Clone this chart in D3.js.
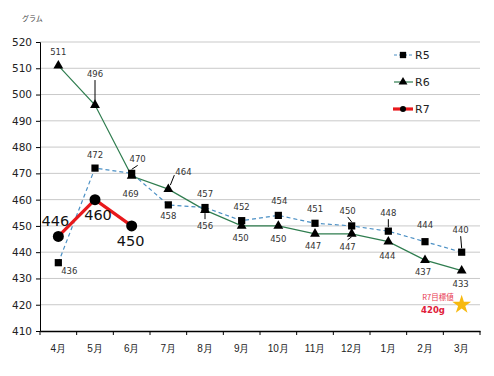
<!DOCTYPE html>
<html><head><meta charset="utf-8">
<script src="https://cdn.jsdelivr.net/npm/d3@7"></script>
<style>
body{margin:0;background:#fff;}
svg{display:block;font-family:"DejaVu Sans","Noto Sans CJK JP",sans-serif;}
</style></head>
<body>
<svg id="c" width="494" height="376"></svg>
<script>
const months = ["4月","5月","6月","7月","8月","9月","10月","11月","12月","1月","2月","3月"];
const r5 = [436,472,470,458,457,452,454,451,450,448,444,440];
const r6 = [511,496,469,464,456,450,450,447,447,444,437,433];
const r7 = [446,460,450];
const yTicks = [410,420,430,440,450,460,470,480,490,500,510,520];
const seriesNames = ["R5","R6","R7"];
const targetValue = 420;
const targetLabel = "R7目標値";
const targetText = "420g";
const unitLabel = "グラム";

// label offsets [dx, dy, leader?]
const r5Off = [[11,11,0],[0,-10,0],[6,-11,1],[0,14,0],[0,-11,0],[0,-11,0],[1,-11,0],[0,-11,0],[-4,-12,1],[0,-15,1],[0,-14,0],[-1,-19,1]];
const r6Off = [[0,-11,0],[0,-28,1],[-1,21,0],[15,-14,1],[0,19,1],[-1,15,0],[0,16,0],[-2,15,0],[-4,16,1],[-1,17,0],[-2,15,0],[-1,16,0]];
const r7Off = [[-3,-10],[3,20],[-1,20]];

const svg = d3.select("#c");
const x = d3.scaleBand().domain(months).range([40,480]);
const y = d3.scaleLinear().domain([410,520]).range([331,42]);
const cx = d => x(d) + x.bandwidth()/2;

// grid
svg.append("g").selectAll("line").data(yTicks.filter(t=>t>410)).join("line")
  .attr("x1",40).attr("x2",480).attr("y1",d=>y(d)).attr("y2",d=>y(d))
  .attr("stroke","#c9c9c9").attr("stroke-width",1);

// axes
const ya = svg.append("g").attr("transform","translate(40,0)")
  .call(d3.axisLeft(y).tickValues(yTicks).tickSize(4).tickPadding(4));
ya.select(".domain").attr("stroke","#000");
ya.selectAll("text").attr("font-size","10.5px").attr("fill","#222").attr("font-family","DejaVu Sans");
const xa = svg.append("g").attr("transform","translate(0,331)")
  .call(d3.axisBottom(x).tickSize(0).tickPadding(14));
xa.select(".domain").attr("stroke","#000").attr("stroke-width",1.3);
xa.selectAll("text").attr("font-size","10px").attr("fill","#222");
svg.append("g").selectAll("line").data(d3.range(months.length+1)).join("line")
  .attr("x1",i=>40+i*x.step()).attr("x2",i=>40+i*x.step()).attr("y1",331).attr("y2",335)
  .attr("stroke","#000");

svg.append("text").attr("x",22).attr("y",21).attr("font-size","7px").attr("fill","#444")
  .attr("font-family","Noto Sans CJK JP").text(unitLabel);

const line = d3.line().x((d,i)=>cx(months[i])).y(d=>y(d));

// R6
svg.append("path").datum(r6).attr("d",line).attr("fill","none").attr("stroke","#2f7d4f").attr("stroke-width",1.2);
// R5
svg.append("path").datum(r5).attr("d",line).attr("fill","none").attr("stroke","#4a8fc4").attr("stroke-width",1.2).attr("stroke-dasharray","4,3");

const tri = d3.symbol().type(d3.symbolTriangle).size(42);
const sq = d3.symbol().type(d3.symbolSquare).size(52);
svg.append("g").selectAll("path").data(r6).join("path")
  .attr("d",tri).attr("transform",(d,i)=>`translate(${cx(months[i])},${y(d)})`).attr("fill","#000");
svg.append("g").selectAll("path").data(r5).join("path")
  .attr("d",sq).attr("transform",(d,i)=>`translate(${cx(months[i])},${y(d)})`).attr("fill","#000");

// R7
svg.append("path").datum(r7).attr("d",line).attr("fill","none").attr("stroke","#e8191c").attr("stroke-width",3.2);
svg.append("g").selectAll("circle").data(r7).join("circle")
  .attr("cx",(d,i)=>cx(months[i])).attr("cy",d=>y(d)).attr("r",5.5).attr("fill","#000");

// labels
function labels(data, off){
  const g = svg.append("g");
  data.forEach((v,i)=>{
    const px = cx(months[i]), py = y(v);
    const [dx,dy,lead] = off[i];
    const lx = px+dx, ly = py+dy;
    if(lead){
      let x1, y1, x2, y2;
      if(Math.abs(dx)>10){ x1 = lx-9; y1 = ly; x2 = px+2; y2 = py-4; }
      else if(dy<0){ x1 = lx; y1 = ly+3; x2 = px; y2 = py-4; }
      else { x1 = lx; y1 = ly-10; x2 = px; y2 = py+3; }
      g.append("line").attr("x1",x1).attr("y1",y1).attr("x2",x2).attr("y2",y2).attr("stroke","#000").attr("stroke-width",1);
    }
    g.append("text").attr("x",lx).attr("y",ly).attr("text-anchor", Math.abs(dx)>10 && lead ? "start":"middle")
      .attr("font-size","8.5px").attr("fill","#333").text(v)
      .attr("dx", Math.abs(dx)>10 && lead ? -8 : 0);
  });
}
labels(r5, r5Off);
labels(r6, r6Off);
r7.forEach((v,i)=>{
  svg.append("text").attr("x",cx(months[i])+r7Off[i][0]).attr("y",y(v)+r7Off[i][1])
    .attr("text-anchor","middle").attr("font-size","14.5px").attr("fill","#111").text(v);
});

// legend
const leg = svg.append("g");
const ly0 = [55,82,109];
seriesNames.forEach((n,i)=>{
  const g = leg.append("g").attr("transform",`translate(0,${ly0[i]})`);
  if(i===0){
    g.append("line").attr("x1",394).attr("x2",413).attr("stroke","#4a8fc4").attr("stroke-dasharray","3,2");
    g.append("path").attr("d",d3.symbol().type(d3.symbolSquare).size(40)).attr("transform","translate(403,0)");
  } else if(i===1){
    g.append("line").attr("x1",394).attr("x2",413).attr("stroke","#2f7d4f").attr("stroke-width",1.2);
    g.append("path").attr("d",d3.symbol().type(d3.symbolTriangle).size(34)).attr("transform","translate(403,0)");
  } else {
    g.append("line").attr("x1",393).attr("x2",413).attr("stroke","#e8191c").attr("stroke-width",3.2);
    g.append("circle").attr("cx",403).attr("cy",0).attr("r",3);
  }
  g.append("text").attr("x",415).attr("y",4).attr("font-size","11px").attr("fill","#222").text(n);
});

// target
const tx = cx(months[11]), ty = y(targetValue);
svg.append("path").attr("d",d3.symbol().type(d3.symbolStar).size(110))
  .attr("transform",`translate(${tx},${ty})`).attr("fill","#f7b90f");
svg.append("text").attr("x",438).attr("y",300).attr("text-anchor","middle").attr("font-size","7.5px")
  .attr("fill","#e8384f").attr("font-family","Noto Sans CJK JP").text(targetLabel);
svg.append("text").attr("x",433).attr("y",313).attr("text-anchor","middle").attr("font-size","8.5px")
  .attr("font-weight","bold").attr("fill","#e0203a").text(targetText);
</script>
</body></html>
